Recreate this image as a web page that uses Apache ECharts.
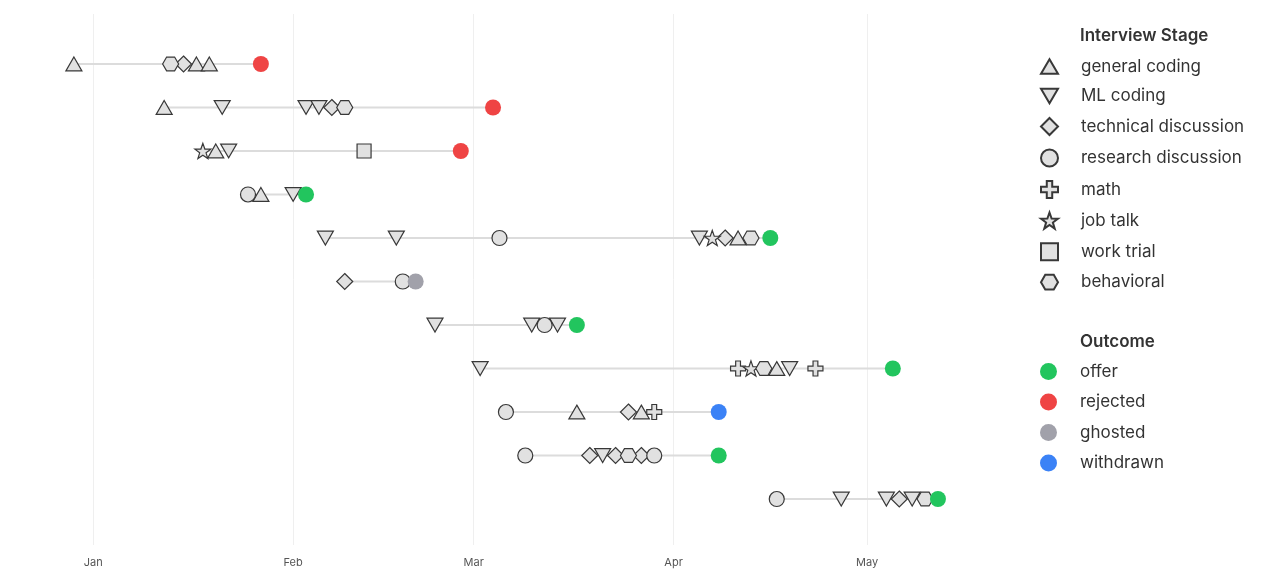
<!DOCTYPE html>
<html>
<head>
<meta charset="utf-8">
<script src="https://cdn.jsdelivr.net/npm/echarts@6/dist/echarts.min.js"></script>
<style>
  html, body { margin: 0; padding: 0; background: #fff; }
  #main { width: 1280px; height: 584px; }
</style>
</head>
<body>
<div id="main"></div>
<script>
// interview stages and outcomes (legend order)
const stageNames = ['general coding', 'ML coding', 'technical discussion', 'research discussion',
  'math', 'job talk', 'work trial', 'behavioral'];
const outcomeNames = ['offer', 'rejected', 'ghosted', 'withdrawn'];
const outcomeColors = ['#22c55e', '#ef4444', '#a1a1aa', '#3b82f6'];
const monthLabels = ['Jan', 'Feb', 'Mar', 'Apr', 'May', 'Jun', 'Jul', 'Aug', 'Sep', 'Oct', 'Nov', 'Dec'];

// one list per application, top to bottom: [date, stage]
const app1 = [['2024-12-29', 'general coding'], ['2025-01-13', 'behavioral'], ['2025-01-15', 'technical discussion'],
  ['2025-01-17', 'general coding'], ['2025-01-19', 'general coding']];
const app2 = [['2025-01-12', 'general coding'], ['2025-01-21', 'ML coding'], ['2025-02-03', 'ML coding'],
  ['2025-02-05', 'ML coding'], ['2025-02-07', 'technical discussion'], ['2025-02-09', 'behavioral']];
const app3 = [['2025-01-18', 'job talk'], ['2025-01-20', 'general coding'], ['2025-01-22', 'ML coding'],
  ['2025-02-12', 'work trial']];
const app4 = [['2025-01-25', 'research discussion'], ['2025-01-27', 'general coding'], ['2025-02-01', 'ML coding']];
const app5 = [['2025-02-06', 'ML coding'], ['2025-02-17', 'ML coding'], ['2025-03-05', 'research discussion'],
  ['2025-04-05', 'ML coding'], ['2025-04-07', 'job talk'], ['2025-04-09', 'technical discussion'],
  ['2025-04-11', 'general coding'], ['2025-04-13', 'behavioral']];
const app6 = [['2025-02-09', 'technical discussion'], ['2025-02-18', 'research discussion']];
const app7 = [['2025-02-23', 'ML coding'], ['2025-03-10', 'ML coding'], ['2025-03-12', 'research discussion'],
  ['2025-03-14', 'ML coding']];
const app8 = [['2025-03-02', 'ML coding'], ['2025-04-11', 'math'], ['2025-04-13', 'job talk'],
  ['2025-04-15', 'behavioral'], ['2025-04-17', 'general coding'], ['2025-04-19', 'ML coding'], ['2025-04-23', 'math']];
const app9 = [['2025-03-06', 'research discussion'], ['2025-03-17', 'general coding'],
  ['2025-03-25', 'technical discussion'], ['2025-03-27', 'general coding'], ['2025-03-29', 'math']];
const app10 = [['2025-03-09', 'research discussion'], ['2025-03-19', 'technical discussion'], ['2025-03-21', 'ML coding'],
  ['2025-03-23', 'technical discussion'], ['2025-03-25', 'behavioral'], ['2025-03-27', 'technical discussion'],
  ['2025-03-29', 'research discussion']];
const app11 = [['2025-04-17', 'research discussion'], ['2025-04-27', 'ML coding'], ['2025-05-04', 'ML coding'],
  ['2025-05-06', 'technical discussion'], ['2025-05-08', 'ML coding'], ['2025-05-10', 'behavioral']];
const applications = [app1, app2, app3, app4, app5, app6, app7, app8, app9, app10, app11];

// final result per application: [date, outcome]
const outcomes = [['2025-01-27', 'rejected'], ['2025-03-04', 'rejected'], ['2025-02-27', 'rejected'],
  ['2025-02-03', 'offer'], ['2025-04-16', 'offer'], ['2025-02-20', 'ghosted'], ['2025-03-17', 'offer'],
  ['2025-05-05', 'offer'], ['2025-04-08', 'withdrawn'], ['2025-04-08', 'offer'], ['2025-05-12', 'offer']];

const xMin = '2024-12-27';
const xMax = '2025-05-21';

// marker shapes for each stage
const stageSymbols = {
  'general coding': ['path://M5,0 L10,8.66 L0,8.66 Z', 16],
  'ML coding': ['path://M0,0 L10,0 L5,8.66 Z', 16],
  'technical discussion': ['diamond', 16],
  'research discussion': ['circle', 15],
  'math': ['path://M3.4,0 H6.6 V3.4 H10 V6.6 H6.6 V10 H3.4 V6.6 H0 V3.4 H3.4 Z', 15],
  'job talk': ['path://M5,0 L6.18,3.38 L9.76,3.45 L6.9,5.62 L7.94,9.05 L5,7 L2.06,9.05 L3.1,5.62 L0.24,3.45 L3.82,3.38 Z', 16],
  'work trial': ['rect', 14],
  'behavioral': ['path://M0,4.33 L2.5,0 L7.5,0 L10,4.33 L7.5,8.66 L2.5,8.66 Z', 16]
};

const fontFamily = 'Inter, "Noto Sans", sans-serif';
const ONE_DAY = 24 * 3600 * 1000;

// gray track from first stage to outcome, one segment per row
function buildTracks() {
  let data = [];
  applications.forEach((app, i) => {
    data.push([app[0][0], i]);
    data.push([outcomes[i][0], i]);
    data.push('-');
  });
  return data;
}

function buildStageSeries() {
  return stageNames.map(name => {
    let data = [];
    applications.forEach((app, i) => {
      app.forEach(([date, stage]) => {
        if (stage === name) data.push([date, i]);
      });
    });
    return {
      name,
      type: 'scatter',
      symbol: stageSymbols[name][0],
      symbolSize: stageSymbols[name][1],
      symbolKeepAspect: true,
      itemStyle: { color: '#e1e1e1', borderColor: '#383838', borderWidth: 1.2, opacity: 1 },
      z: 3,
      data
    };
  });
}

function buildOutcomeSeries() {
  return outcomeNames.map((name, k) => ({
    name,
    type: 'scatter',
    symbol: 'circle',
    symbolSize: 16,
    itemStyle: { color: outcomeColors[k], opacity: 1 },
    z: 4,
    data: outcomes.map((o, i) => o[1] === name ? [o[0], i] : null).filter(d => d)
  }));
}

const legendCommon = {
  orient: 'vertical',
  left: 1040,
  padding: 0,
  itemWidth: 17,
  itemHeight: 17,
  selectedMode: false,
  textStyle: { fontSize: 17, color: '#333', fontFamily, padding: [0, 0, 0, 18] }
};

const option = {
  animation: false,
  backgroundColor: '#fff',
  textStyle: { fontFamily },
  title: [
    { text: 'Interview Stage', left: 1080, top: 27, padding: 0,
      textStyle: { fontSize: 17, fontWeight: 600, color: '#333', fontFamily } },
    { text: 'Outcome', left: 1080, top: 333, padding: 0,
      textStyle: { fontSize: 17, fontWeight: 600, color: '#333', fontFamily } }
  ],
  legend: [
    Object.assign({}, legendCommon, { top: 58, itemGap: 12.5, data: stageNames }),
    Object.assign({}, legendCommon, { top: 363, itemGap: 13.5, data: outcomeNames })
  ],
  grid: { left: 61, right: 284, top: 14, bottom: 39 },
  xAxis: {
    type: 'time',
    min: xMin,
    max: xMax,
    minInterval: 28 * ONE_DAY,
    maxInterval: 31 * ONE_DAY,
    axisLine: { show: false },
    axisTick: { show: false },
    axisLabel: {
      fontSize: 11, color: '#555', margin: 12, fontFamily,
      showMinLabel: false, showMaxLabel: false,
      formatter: v => {
        const d = new Date(v);
        return d.getDate() === 1 ? monthLabels[d.getMonth()] : '';
      }
    },
    splitLine: { show: true, showMinLine: false, showMaxLine: false, lineStyle: { color: '#efefef', width: 1 } }
  },
  yAxis: {
    type: 'value',
    inverse: true,
    min: -1.149,
    max: 11.057,
    show: false
  },
  series: [
    {
      name: 'track',
      type: 'line',
      symbol: 'none',
      silent: true,
      connectNulls: false,
      lineStyle: { color: '#dcdcdc', width: 2 },
      z: 1,
      data: buildTracks()
    },
    ...buildStageSeries(),
    ...buildOutcomeSeries()
  ]
};

let chart = echarts.init(document.getElementById('main'));
chart.setOption(option);
</script>
</body>
</html>
